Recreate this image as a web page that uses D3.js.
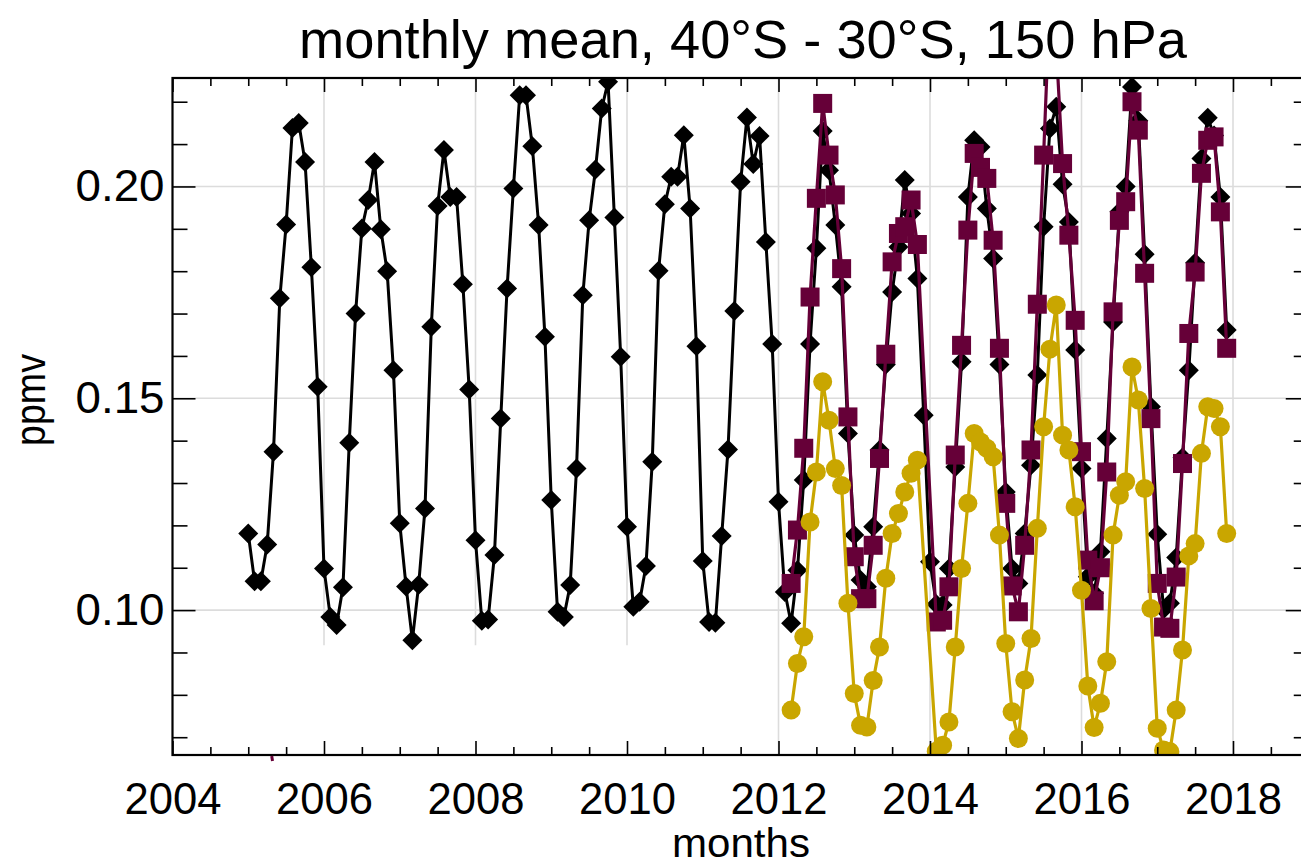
<!DOCTYPE html>
<html>
<head>
<meta charset="utf-8">
<script src="https://cdn.jsdelivr.net/npm/d3@7"></script>
<style>
  html, body { margin: 0; padding: 0; background: #fff; }
  svg { display: block; }
  text { font-family: "Liberation Sans", Arial, Helvetica, sans-serif; fill: #000; }
</style>
</head>
<body>
<svg id="chart" width="1301" height="864"></svg>
<script>
// ---- data -------------------------------------------------------------
// Monthly means, 40°S - 30°S at 150 hPa (ppmv).
// Diamond series: Jan 2005 .. Dec 2017, one value per month.
const diamondStart = { year: 2005, month: 1 };
const diamondValues = [
  // 2005
  0.1181, 0.1068, 0.1068, 0.1155, 0.1374, 0.1736, 0.1910, 0.2138, 0.2150, 0.2058, 0.1809, 0.1527,
  // 2006
  0.1098, 0.0984, 0.0965, 0.1054, 0.1395, 0.1700, 0.1901, 0.1968, 0.2058, 0.1899, 0.1800, 0.1566,
  // 2007
  0.1205, 0.1056, 0.0929, 0.1060, 0.1240, 0.1669, 0.1954, 0.2086, 0.1975, 0.1975, 0.1769, 0.1521,
  // 2008
  0.1165, 0.0975, 0.0978, 0.1130, 0.1452, 0.1759, 0.1995, 0.2215, 0.2215, 0.2095, 0.1909, 0.1645,
  // 2009
  0.1260, 0.0996, 0.0984, 0.1059, 0.1334, 0.1743, 0.1920, 0.2040, 0.2184, 0.2247, 0.1927, 0.1598,
  // 2010
  0.1197, 0.1008, 0.1020, 0.1104, 0.1350, 0.1801, 0.1958, 0.2023, 0.2023, 0.2121, 0.1948, 0.1623,
  // 2011
  0.1116, 0.0972, 0.0970, 0.1175, 0.1379, 0.1706, 0.2011, 0.2163, 0.2053, 0.2119, 0.1869, 0.1628,
  // 2012
  0.1256, 0.1043, 0.0969, 0.1094, 0.1307, 0.1628, 0.1854, 0.2131, 0.2038, 0.1909, 0.1763, 0.1417,
  // 2013
  0.1177, 0.1071, 0.1055, 0.1197, 0.1378, 0.1580, 0.1751, 0.1857, 0.2015, 0.1936, 0.1783, 0.1460,
  // 2014
  0.1114, 0.1014, 0.1012, 0.1098, 0.1338, 0.1586, 0.1975, 0.2109, 0.2093, 0.1948, 0.1830, 0.1580,
  // 2015
  0.1279, 0.1098, 0.1063, 0.1181, 0.1342, 0.1555, 0.1905, 0.2137, 0.2188, 0.2005, 0.1916, 0.1614,
  // 2016
  0.1334, 0.1079, 0.1040, 0.1138, 0.1405, 0.1680, 0.1940, 0.2000, 0.2235, 0.2155, 0.1840, 0.1480,
  // 2017
  0.1179, 0.1002, 0.1016, 0.1124, 0.1360, 0.1566, 0.1820, 0.2066, 0.2162, 0.2120, 0.1975, 0.1661
];

// Square series: Mar 2012 .. Dec 2017 (null = month without data).
const squareStart = { year: 2012, month: 3 };
const squareValues = [
  // 2012 (Mar-Dec)
  0.1063, 0.1189, 0.1382, 0.1739, 0.1972, 0.2196, 0.2074, 0.1980, 0.1806, 0.1456,
  // 2013
  0.1126, 0.1027, 0.1027, 0.1153, 0.1358, 0.1604, 0.1822, 0.1889, 0.1905, 0.1968, 0.1863, null,
  // 2014
  null, 0.0972, 0.0976, 0.1055, 0.1366, 0.1625, 0.1897, 0.2078, 0.2045, 0.2019, 0.1873, 0.1618,
  // 2015
  0.1252, 0.1057, 0.0996, 0.1153, 0.1378, 0.1722, 0.2074, 0.2450, 0.2330, 0.2054, 0.1885, 0.1684,
  // 2016
  0.1374, 0.1118, 0.1022, 0.1100, 0.1326, 0.1704, 0.1920, 0.1964, 0.2200, 0.2133, 0.1795, 0.1452,
  // 2017
  0.1063, 0.0960, 0.0957, 0.1078, 0.1346, 0.1653, 0.1798, 0.2031, 0.2109, 0.2117, 0.1940, 0.1618
];

// Circle series: Mar 2012 .. Dec 2017 (null = month without data).
const circleStart = { year: 2012, month: 3 };
const circleValues = [
  // 2012 (Mar-Dec)
  0.0764, 0.0874, 0.0937, 0.1208, 0.1326, 0.1539, 0.1448, 0.1334, 0.1294, 0.1016,
  // 2013
  0.0803, 0.0728, 0.0724, 0.0834, 0.0913, 0.1075, 0.1181, 0.1228, 0.1279, 0.1323, 0.1354, null,
  // 2014
  null, 0.0667, 0.0681, 0.0736, 0.0913, 0.1098, 0.1252, 0.1417, 0.1397, 0.1382, 0.1362, 0.1177,
  // 2015
  0.0921, 0.0760, 0.0697, 0.0835, 0.0933, 0.1193, 0.1433, 0.1616, 0.1720, 0.1413, 0.1378, 0.1244,
  // 2016
  0.1047, 0.0821, 0.0723, 0.0780, 0.0878, 0.1177, 0.1271, 0.1303, 0.1574, 0.1496, 0.1287, 0.1004,
  // 2017
  0.0721, 0.0670, 0.0666, 0.0764, 0.0906, 0.1128, 0.1157, 0.1370, 0.1480, 0.1476, 0.1433, 0.1181
];

// Axis ticks and labels
const xLabelYears = [2004, 2006, 2008, 2010, 2012, 2014, 2016, 2018];
const xGridYears  = [2006, 2008, 2010, 2012, 2014, 2016, 2018];
const yLabelValues = [0.10, 0.15, 0.20];
const yMinorValues = [0.07, 0.08, 0.09, 0.11, 0.12, 0.13, 0.14, 0.16, 0.17, 0.18, 0.19, 0.21, 0.22];
const titleText  = "monthly mean, 40°S - 30°S, 150 hPa";
const xAxisTitle = "months";
const yAxisTitle = "ppmv";

// ---- layout -----------------------------------------------------------
const plot = { left: 172.5, right: 1308.75, top: 78, bottom: 755 };
const colors = { diamond: "#000000", square: "#660038", circle: "#c9a600", grid: "#dcdcdc" };

const svg = d3.select("#chart");

const x = d3.scaleLinear().domain([2004, 2019]).range([plot.left, plot.right]);
const y = d3.scaleLinear().domain([0.0658, 0.2256]).range([plot.bottom, plot.top]);

// month index -> decimal year
function toSeries(start, values) {
  return values.map((v, i) => {
    const m = start.month - 1 + i;
    return { t: start.year + m / 12, v };
  }).filter(d => d.v !== null);
}
const diamonds = toSeries(diamondStart, diamondValues);
const squares  = toSeries(squareStart, squareValues);
const circles  = toSeries(circleStart, circleValues);

// clip region for data
svg.append("defs").append("clipPath").attr("id", "plotClip")
  .append("rect")
  .attr("x", plot.left).attr("y", plot.top)
  .attr("width", plot.right - plot.left).attr("height", plot.bottom - plot.top);

// ---- grid -------------------------------------------------------------
const grid = svg.append("g").attr("class", "grid");
grid.selectAll("line.vg").data(xGridYears).join("line")
  .attr("class", "vg")
  .attr("x1", d => x(d)).attr("x2", d => x(d))
  .attr("y1", plot.top).attr("y2", plot.bottom)
  .attr("stroke", colors.grid).attr("stroke-width", 1.6);
grid.selectAll("line.hg").data(yLabelValues).join("line")
  .attr("class", "hg")
  .attr("x1", plot.left).attr("x2", plot.right)
  .attr("y1", d => y(d)).attr("y2", d => y(d))
  .attr("stroke", colors.grid).attr("stroke-width", 1.6);

// blank panel in the lower left corner of the frame
svg.append("rect")
  .attr("x", plot.left + 2).attr("y", y(0.0917))
  .attr("width", x(2011.97) - plot.left - 2)
  .attr("height", plot.bottom - y(0.0917) - 1)
  .attr("fill", "#fff");

// ---- series -----------------------------------------------------------
const data = svg.append("g").attr("clip-path", "url(#plotClip)");
const line = d3.line().x(d => x(d.t)).y(d => y(d.v));

function drawLine(pts, color, width) {
  data.append("path").datum(pts)
    .attr("d", line).attr("fill", "none")
    .attr("stroke", color).attr("stroke-width", width)
    .attr("stroke-linejoin", "round");
}

drawLine(diamonds, colors.diamond, 3);
data.append("g").selectAll("path").data(diamonds).join("path")
  .attr("d", "M0,-10L10,0L0,10L-10,0Z")
  .attr("transform", d => `translate(${x(d.t)},${y(d.v)})`)
  .attr("fill", colors.diamond);

drawLine(squares, colors.square, 3.2);
data.append("g").selectAll("rect").data(squares).join("rect")
  .attr("x", d => x(d.t) - 9.5).attr("y", d => y(d.v) - 9.5)
  .attr("width", 19).attr("height", 19)
  .attr("fill", colors.square);

drawLine(circles, colors.circle, 3.2);
data.append("g").selectAll("circle").data(circles).join("circle")
  .attr("cx", d => x(d.t)).attr("cy", d => y(d.v))
  .attr("r", 9.5)
  .attr("fill", colors.circle);

// ---- axes -------------------------------------------------------------
const halfYears = d3.range(2004.5, 2019, 0.5).filter(v => v % 2 !== 0);
const fmtYear = d3.format("d");

function styleAxis(g) {
  g.select(".domain").remove();
  g.selectAll(".tick line").attr("stroke", "#000").attr("stroke-width", 1.6);
}

// bottom
svg.append("g").attr("transform", `translate(0,${plot.bottom})`)
  .call(d3.axisBottom(x).tickValues(xLabelYears).tickFormat(fmtYear).tickSize(-14).tickPadding(27))
  .call(styleAxis)
  .call(g => g.selectAll("text")
    .attr("font-size", 45).attr("font-family", null)
    .attr("textLength", 97).attr("lengthAdjust", "spacingAndGlyphs"));
svg.append("g").attr("transform", `translate(0,${plot.bottom})`)
  .call(d3.axisBottom(x).tickValues(halfYears).tickFormat("").tickSize(-8))
  .call(styleAxis);
// top
svg.append("g").attr("transform", `translate(0,${plot.top})`)
  .call(d3.axisTop(x).tickValues(xLabelYears).tickFormat("").tickSize(-14))
  .call(styleAxis);
svg.append("g").attr("transform", `translate(0,${plot.top})`)
  .call(d3.axisTop(x).tickValues(halfYears).tickFormat("").tickSize(-8))
  .call(styleAxis);
// left
svg.append("g").attr("transform", `translate(${plot.left},0)`)
  .call(d3.axisLeft(y).tickValues(yLabelValues).tickFormat(d3.format(".2f")).tickSize(-23).tickPadding(8))
  .call(styleAxis)
  .call(g => g.selectAll("text")
    .attr("font-size", 44).attr("font-family", null)
    .attr("textLength", 89).attr("lengthAdjust", "spacingAndGlyphs"));
svg.append("g").attr("transform", `translate(${plot.left},0)`)
  .call(d3.axisLeft(y).tickValues(yMinorValues).tickFormat("").tickSize(-15))
  .call(styleAxis);
// right
svg.append("g").attr("transform", `translate(${plot.right},0)`)
  .call(d3.axisRight(y).tickValues(yLabelValues).tickFormat("").tickSize(-23))
  .call(styleAxis);
svg.append("g").attr("transform", `translate(${plot.right},0)`)
  .call(d3.axisRight(y).tickValues(yMinorValues).tickFormat("").tickSize(-15))
  .call(styleAxis);

// frame
svg.append("rect")
  .attr("x", plot.left).attr("y", plot.top)
  .attr("width", plot.right - plot.left).attr("height", plot.bottom - plot.top)
  .attr("fill", "none").attr("stroke", "#000").attr("stroke-width", 2.2);

// stray clipped segment of the square series just under the frame
svg.append("line")
  .attr("x1", x(2005.31)).attr("x2", x(2005.32))
  .attr("y1", plot.bottom + 1).attr("y2", plot.bottom + 6)
  .attr("stroke", colors.square).attr("stroke-width", 3);

// ---- titles -----------------------------------------------------------
svg.append("text")
  .attr("x", 743).attr("y", 58)
  .attr("text-anchor", "middle")
  .attr("font-size", 53)
  .attr("textLength", 888).attr("lengthAdjust", "spacingAndGlyphs")
  .text(titleText);

svg.append("text")
  .attr("x", 741).attr("y", 857)
  .attr("text-anchor", "middle")
  .attr("font-size", 40)
  .attr("textLength", 138).attr("lengthAdjust", "spacingAndGlyphs")
  .text(xAxisTitle);

svg.append("text")
  .attr("transform", "translate(45,400) rotate(-90)")
  .attr("text-anchor", "middle")
  .attr("font-size", 42)
  .attr("textLength", 92).attr("lengthAdjust", "spacingAndGlyphs")
  .text(yAxisTitle);
</script>
</body>
</html>
